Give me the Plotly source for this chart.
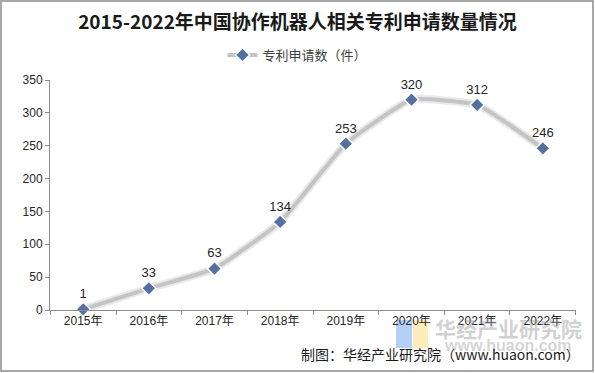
import plotly.graph_objects as go

years = ["2015年", "2016年", "2017年", "2018年", "2019年", "2020年", "2021年", "2022年"]
patents = [1, 33, 63, 134, 253, 320, 312, 246]
series_name = "专利申请数（件）"
title = "2015-2022年中国协作机器人相关专利申请数量情况"
source = "制图：华经产业研究院（www.huaon.com）"

FONT = "Liberation Sans, Noto Sans CJK SC, sans-serif"

fig = go.Figure()
# soft shadow under the line
fig.add_trace(go.Scatter(
    x=years, y=patents, mode="lines", showlegend=False, hoverinfo="skip",
    line=dict(color="rgba(0,0,0,0.09)", width=8, shape="spline", smoothing=0.4),
))
fig.add_trace(go.Scatter(
    x=years, y=patents, mode="lines+markers+text", name=series_name,
    line=dict(color="#C4C4C4", width=4, shape="spline", smoothing=0.4),
    marker=dict(symbol="diamond", size=11, color="#5470A0",
                line=dict(color="white", width=1.5)),
    text=[str(v) for v in patents], textposition="top center",
    textfont=dict(family=FONT, size=13, color="#262626"),
    cliponaxis=False,
))

W, H = 595, 373
L, R, T, B = 50, 19, 80, 63
pw, ph = W - L - R, H - T - B

def px(x):
    return (x - L) / pw

def py(y):
    return (H - B - y) / ph

fig.update_layout(
    width=W, height=H,
    margin=dict(l=L, r=R, t=T, b=B, autoexpand=False),
    paper_bgcolor="white", plot_bgcolor="white",
    font=dict(family=FONT, size=12, color="#404040"),
    title=dict(text="<b>" + title + "</b>", x=0.5, xanchor="center",
               y=1 - 22 / H, yanchor="middle",
               font=dict(family="Noto Sans CJK SC, sans-serif", size=19, color="#1a1a1a")),
    legend=dict(orientation="h", xref="container", yref="container",
                x=0.5, xanchor="center", y=1 - 55 / H, yanchor="middle",
                font=dict(family="Noto Sans CJK SC, sans-serif", size=13, color="#404040")),
    xaxis=dict(showline=True, linecolor="#8C8C8C", linewidth=1,
               ticks="outside", ticklen=4, tickcolor="#8C8C8C",
               tickson="boundaries", showgrid=False,
               tickfont=dict(family=FONT, size=12, color="#262626")),
    yaxis=dict(range=[0, 350], dtick=50, showline=True, linecolor="#8C8C8C",
               linewidth=1, ticks="outside", ticklen=4, tickcolor="#8C8C8C",
               showgrid=False, zeroline=False,
               tickfont=dict(family=FONT, size=12, color="#262626")),
    shapes=[
        dict(type="rect", xref="paper", yref="paper",
             x0=px(1), x1=px(593), y0=py(371), y1=py(1),
             line=dict(color="#8C8C8C", width=1.5), fillcolor="rgba(0,0,0,0)", layer="below"),
        # watermark logo blocks
        dict(type="rect", xref="paper", yref="paper",
             x0=px(396), x1=px(412), y0=py(348), y1=py(320),
             line=dict(width=0), fillcolor="rgba(120,170,240,0.55)", layer="below"),
        dict(type="rect", xref="paper", yref="paper",
             x0=px(413), x1=px(428), y0=py(348), y1=py(320),
             line=dict(width=0), fillcolor="rgba(250,225,140,0.6)", layer="below"),
    ],
    annotations=[
        dict(text="<b>华经产业研究院</b>", xref="paper", yref="paper",
             x=px(508), y=py(328), showarrow=False, xanchor="center", yanchor="middle",
             font=dict(family="Noto Sans CJK SC, sans-serif", size=21, color="rgba(150,150,150,0.45)")),
        dict(text="<b>www.huaon.com</b>", xref="paper", yref="paper",
             x=px(508), y=py(345), showarrow=False, xanchor="center", yanchor="middle",
             font=dict(family=FONT, size=16, color="rgba(160,160,160,0.45)")),
        dict(text=source, xref="paper", yref="paper",
             x=px(582), y=py(354), showarrow=False, xanchor="right", yanchor="middle",
             font=dict(family="Noto Sans CJK SC, sans-serif", size=14, color="#1a1a1a")),
    ],
)

fig.write_html("out.html", config={"displayModeBar": False},
               post_script="document.body.style.margin='0';")
